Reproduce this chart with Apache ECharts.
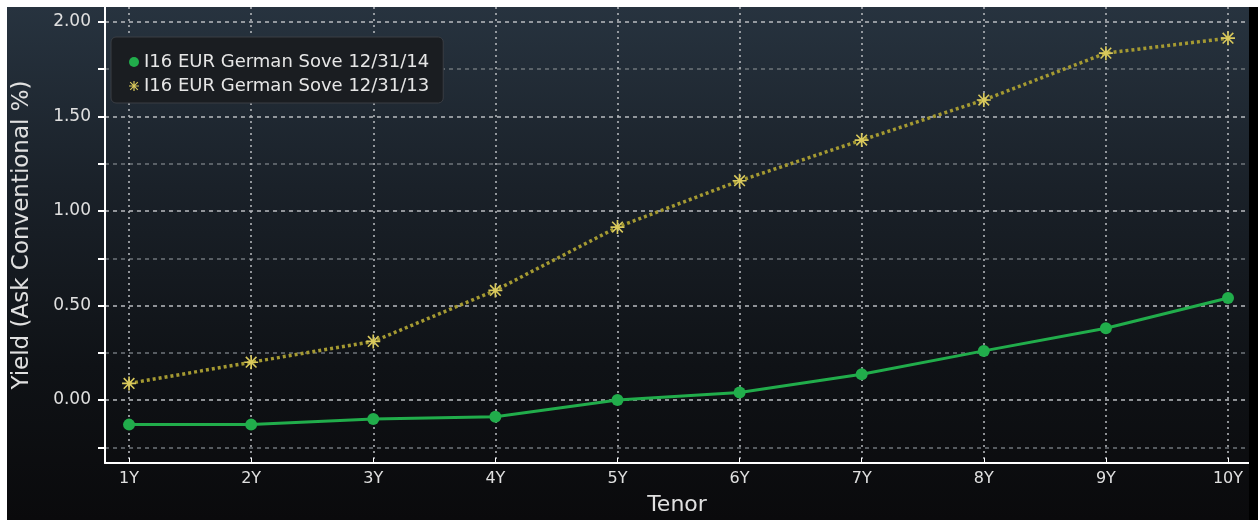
<!DOCTYPE html>
<html>
<head>
<meta charset="utf-8">
<script src="https://cdn.jsdelivr.net/npm/echarts@6/dist/echarts.min.js"></script>
<style>
html,body{margin:0;padding:0;background:#ffffff;width:1258px;height:520px;overflow:hidden;}
#chart{position:absolute;left:7px;top:7px;width:1242px;height:513px;background:linear-gradient(180deg,#27333f 0%,#1a2129 35%,#0f1216 70%,#0a0a0c 100%);}
#strip{position:absolute;left:1249px;top:7px;width:9px;height:513px;background:#000;}
</style>
</head>
<body>
<div id="chart"></div>
<div id="strip"></div>
<script>
const categories = ['1Y','2Y','3Y','4Y','5Y','6Y','7Y','8Y','9Y','10Y'];
const tenors = [1,2,3,4,5,6,7,8,9,10];
const yields2014 = [-0.13,-0.13,-0.10,-0.088,0.00,0.04,0.136,0.26,0.38,0.54];
const yields2013 = [0.088,0.20,0.31,0.58,0.915,1.16,1.375,1.587,1.835,1.914];
const yTickValues = [-0.25,0,0.25,0.5,0.75,1.0,1.25,1.5,1.75,2.0];
const yLabelValues = [0,0.5,1.0,1.5,2.0];
const seriesNames = ['I16 EUR German Sove 12/31/14','I16 EUR German Sove 12/31/13'];

const asterisk = 'path://M0,4.4L10,4.4L10,5.6L0,5.6Z M4.4,0L5.6,0L5.6,10L4.4,10Z M0.8,1.6L1.6,0.8L9.2,8.4L8.4,9.2Z M8.4,0.8L9.2,1.6L1.6,9.2L0.8,8.4Z';
const green = '#21ad4b';
const olive = '#a59a32';
const starCol = '#d9c95c';
const font = 'DejaVu Sans';

const chart = echarts.init(document.getElementById('chart'), null, {renderer:'canvas'});
chart.setOption({
  animation:false,
  backgroundColor:'transparent',
  grid:{left:98,right:0,top:0,bottom:57,containLabel:false,outerBoundsMode:'none'},
  legend:{
    orient:'vertical',left:104,top:30,
    backgroundColor:'#1a1d21',borderColor:'#3a3e44',borderWidth:1,borderRadius:5,
    padding:[16,14,8,18],itemGap:6,itemWidth:10,itemHeight:10,
    textStyle:{color:'#e6e6e6',fontSize:18,fontFamily:font},
    data:[
      {name:seriesNames[0],icon:'circle',itemStyle:{color:green}},
      {name:seriesNames[1],icon:asterisk,itemStyle:{color:starCol}}
    ]
  },
  xAxis:{
    type:'value',min:0.803,max:10.172,
    name:'Tenor',nameLocation:'middle',nameGap:31,
    nameTextStyle:{color:'#e0e0e0',fontSize:22,fontFamily:font},
    axisLine:{show:true,onZero:false,lineStyle:{color:'#ffffff',width:2}},
    axisTick:{show:true,inside:true,length:5,customValues:tenors,lineStyle:{color:'#ffffff',width:1}},
    axisLabel:{customValues:tenors,color:'#e0e0e0',fontSize:16,fontFamily:font,margin:8,
      formatter:function(v){const i=tenors.indexOf(Math.round(v));return i>=0?categories[i]:'';}},
    splitLine:{show:true,lineStyle:{color:'#b9bcc0',width:1.5,type:[2,4]}}
  },
  yAxis:{
    type:'value',min:-0.333,max:2.079,
    name:'Yield (Ask Conventional %)',nameLocation:'middle',nameGap:71,
    nameTextStyle:{color:'#e0e0e0',fontSize:23,fontFamily:font},
    axisLine:{show:true,onZero:false,lineStyle:{color:'#ffffff',width:2}},
    axisTick:{show:true,length:7,customValues:yTickValues,lineStyle:{color:'#ffffff',width:2}},
    axisLabel:{customValues:yLabelValues,color:'#e0e0e0',fontSize:17,fontFamily:font,margin:14,
      formatter:function(v){return v.toFixed(2);}},
    splitLine:{show:true,lineStyle:{color:['#6f757b','#b9bcc0'],width:1.5,type:[4,4]}}
  },
  series:[
    {
      name:seriesNames[0],type:'line',
      data:tenors.map((t,i)=>[t,yields2014[i]]),
      symbol:'circle',symbolSize:12,
      lineStyle:{color:green,width:3},
      itemStyle:{color:green}
    },
    {
      name:seriesNames[1],type:'line',
      data:tenors.map((t,i)=>[t,yields2013[i]]),
      symbol:asterisk,symbolSize:14,
      lineStyle:{color:olive,width:3.5,type:[3,3]},
      itemStyle:{color:starCol}
    }
  ]
});
</script>
</body>
</html>
